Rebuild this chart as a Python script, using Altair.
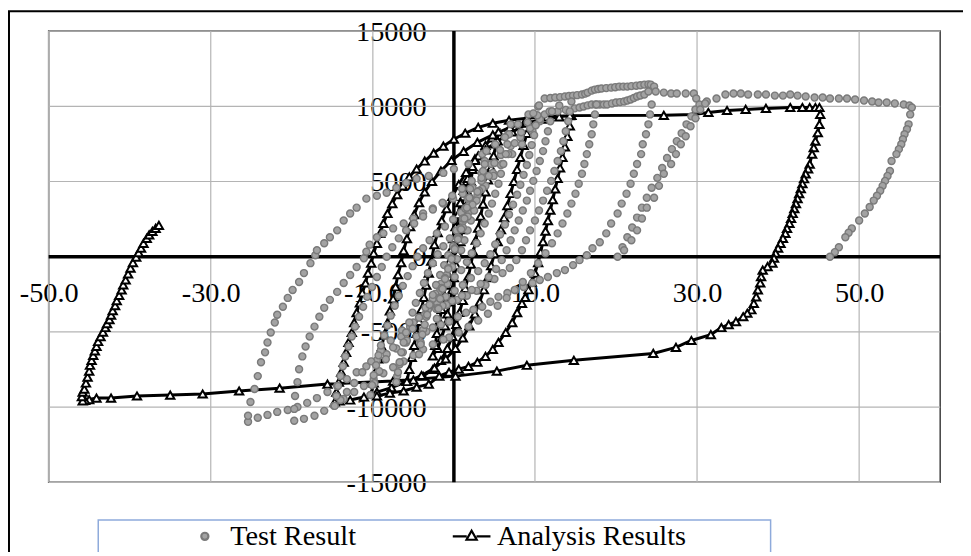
import altair as alt
import pandas as pd

# ---------------- axis values ----------------
X_TICKS = [-50, -30, -10, 10, 30, 50]
Y_TICKS = [-15000, -10000, -5000, 0, 5000, 10000, 15000]
GRID_Y = [-15000, -10000, -5000, 5000, 10000, 15000]

# ---------------- Test Result (grey circles) ----------------
T_TOP24 = [(11.2,10520),(11.9,10550),(12.5,10580),(13.1,10610),(13.7,10650),(14.2,10680),(14.7,10710),(15.2,10740),(15.8,10780),(16.2,10840),(16.5,10910),(17.0,11040),(17.4,11110),(17.8,11150),(18.2,11180),(18.8,11210),(19.4,11240),(19.9,11270),(20.4,11310),(20.9,11310),(21.4,11310),(21.9,11340),(22.5,11370),(23.0,11400),(23.5,11440),(24.0,11460),(24.3,11440),(24.7,11310),(24.9,10980),(25.9,10910),(26.8,10850)]
T_TOP2 = [(14.9,9860),(15.5,9920),(16.0,9990),(16.5,10060),(17.0,10120),(17.5,10120),(18.0,10120),(18.5,10120),(18.9,10120),(19.5,10190),(20.0,10250),(20.5,10280),(21.0,10320),(21.4,10380),(21.8,10450),(22.2,10550),(22.6,10650),(23.0,10720),(23.5,10780),(24.0,10980)]
T_FINAL_TOP = [(27.5,10850),(28.6,10850),(29.6,10850),(29.9,10520),(31.2,10320),(32.4,10520),(33.5,10780),(34.5,10850),(35.4,10850),(36.3,10780),(37.5,10780),(38.5,10780),(39.6,10710),(40.6,10710),(41.5,10780),(42.4,10710),(43.4,10650),(44.5,10580),(45.5,10580),(46.4,10520),(47.5,10520),(48.5,10520),(49.5,10450),(50.6,10380),(51.6,10320),(52.4,10250),(53.4,10250),(54.4,10190),(55.5,10120),(56.2,10050),(56.5,9920)]
T_FINAL_UNLOAD = [(56.3,9460),(56.1,8800),(55.9,8470),(55.6,8140),(55.4,7810),(55.2,7480),(54.9,7150),(54.6,6820),(54.0,6360),(53.8,5700),(53.5,5370),(53.2,5040),(52.9,4710),(52.6,4380),(52.2,4050),(51.8,3730),(51.3,3300),(50.7,2870),(50.0,2410),(49.1,1880),(48.7,1590),(48.3,1290),(47.5,630),(47.0,300),(46.4,0)]
T_RISE1 = [(20.2,0),(20.8,630),(21.4,1290),(22.0,1940),(22.6,2600),(23.2,3260),(23.8,3920),(24.4,4580),(25.1,5240),(25.7,5900),(26.3,6560),(26.9,7150),(27.5,7680),(28.1,8210),(28.7,8800),(29.3,9330),(29.8,9790),(30.3,10120)]
T_RISE2 = [(21.0,430),(21.9,1090),(22.6,1750),(23.2,2540),(23.8,3260),(24.7,3920),(25.3,4710),(25.9,5510),(26.8,6160),(27.4,6820),(28.0,7480),(28.6,8010),(29.2,8670),(29.8,9200),(30.4,9790),(31.0,10190)]
T_UNLOAD24 = [(24.4,10120),(24.2,9460),(24.0,8800),(23.7,8140),(23.3,7480),(23.1,6820),(22.6,6160),(22.2,5510),(21.8,4850),(21.3,4190),(20.7,3530),(20.2,2870),(19.4,2210),(18.8,1550),(18.0,960),(17.1,560),(16.4,100),(15.5,-230),(14.7,-560),(13.7,-890),(12.7,-1090),(11.6,-1350),(10.6,-1550),(9.7,-1750),(8.6,-2010),(7.6,-2210),(6.6,-2410),(5.5,-2670),(4.5,-3000),(3.5,-3330),(2.4,-3530),(1.5,-3720),(0.5,-3990),(-0.6,-4320),(-1.6,-4520),(-2.6,-4710),(-3.4,-4980),(-4.6,-5310),(-5.9,-5700),(-7.1,-6100),(-8.3,-6490),(-9.5,-6890),(-10.8,-7290),(-12.0,-7680),(-13.2,-8140),(-14.4,-8600),(-15.6,-9000),(-16.9,-9400),(-18.1,-9720),(-19.3,-9990),(-20.5,-10190),(-21.8,-10320),(-23.0,-10520),(-24.2,-10710),(-25.4,-10980)]
T_UNLOAD17 = [(17.6,10120),(17.4,9460),(17.2,8800),(17.0,8140),(16.7,7480),(16.4,6820),(16.1,6160),(15.8,5510),(15.4,4850),(15.0,4190),(14.5,3530),(14.0,2870),(13.4,2210),(12.8,1550),(12.1,890),(11.3,230),(10.4,-430),(9.5,-1090),(8.5,-1680),(7.5,-2210),(6.5,-2740),(5.4,-3260),(4.2,-3790),(3.0,-4250),(1.8,-4650),(0.6,-5040),(-0.6,-5370),(-1.3,-5510),(-2.6,-5830),(-3.8,-6160),(-5.0,-6560),(-6.2,-6960),(-7.5,-7350),(-8.7,-7750),(-9.9,-8140),(-11.1,-8600),(-12.3,-9000),(-13.6,-9460),(-14.8,-9920),(-16.0,-10250),(-17.2,-10580),(-18.5,-10780),(-19.7,-10910)]
T_RELOAD25 = [(-25.4,-10580),(-25.1,-9660),(-24.6,-8800),(-24.2,-7940),(-23.8,-7020),(-23.3,-6360),(-23.0,-5700),(-22.6,-5040),(-22.1,-4380),(-21.8,-3860),(-21.1,-3330),(-20.5,-2740),(-19.9,-2210),(-19.1,-1680),(-18.5,-1090),(-17.7,-430),(-17.1,100),(-16.9,430),(-16.0,890),(-15.3,1290),(-14.4,1750),(-13.6,2410),(-12.8,2870),(-12.0,3260),(-10.8,3860),(-9.5,4050),(-8.3,4250),(-7.1,4580),(-5.9,4910),(-4.6,5180),(-3.1,5370),(-1.3,5570),(0.0,5830),(1.8,6160),(3.5,6820),(5.1,7480),(6.7,8140),(7.9,8800),(9.2,9460),(10.4,9990)]
T_RELOAD20 = [(-19.7,-10120),(-19.6,-9260),(-19.3,-8340),(-19.1,-7480),(-18.7,-6630),(-18.3,-5970),(-17.8,-5310),(-17.2,-4650),(-16.6,-3990),(-16.0,-3400),(-15.3,-2870),(-14.4,-2340),(-13.6,-1750),(-12.8,-1220),(-12.0,-690),(-11.1,-100),(-10.8,330),(-10.4,800),(-9.5,1290),(-8.7,1550),(-7.5,1880),(-6.2,2210),(-5.0,2540),(-3.8,2870),(-2.6,3200),(-1.3,3530),(-0.1,3860),(1.1,4190),(2.3,4580),(3.5,5040),(4.8,5570),(6.0,6160),(7.2,6820),(8.4,7480),(9.7,8340),(10.6,9000),(11.2,9460),(12.1,9660),(12.8,9660),(13.8,9760)]
LOOP_A_UNLOAD = [(14.5,10320),(14.3,9660),(14.1,9000),(13.8,8340),(13.5,7680),(13.2,7020),(12.8,6360),(12.4,5700),(12.0,5040),(11.5,4380),(11.0,3730),(10.5,3070),(10.0,2410),(9.4,1750),(8.9,1090),(8.4,430),(7.7,-230),(6.9,-750),(6.0,-1090),(5.0,-1480),(3.9,-1880),(2.8,-2270),(1.6,-2600),(0.4,-2870),(-0.9,-3200),(-2.2,-3460),(-3.6,-3860),(-5.0,-4380),(-6.4,-4910),(-7.8,-5570),(-9.0,-6230),(-10.2,-6960),(-11.3,-7680),(-12.3,-8400),(-13.2,-9000),(-14.0,-9530),(-14.7,-9920)]
LOOP_A_RELOAD = [(-14.5,-9260),(-14.3,-8600),(-14.0,-7940),(-13.7,-7290),(-13.4,-6630),(-13.0,-5970),(-12.6,-5310),(-12.2,-4650),(-11.7,-3990),(-11.2,-3330),(-10.7,-2670),(-10.1,-2010),(-9.5,-1350),(-8.9,-690),(-8.3,0),(-7.6,630),(-6.8,1220),(-5.9,1750),(-4.9,2210),(-3.8,2670),(-2.6,3130),(-1.4,3590),(-0.2,4050),(1.0,4520),(2.2,5040),(3.4,5570),(4.6,6160),(5.8,6760),(7.0,7350),(8.2,7940),(9.4,8540),(10.6,9130),(11.8,9660),(13.0,10050)]
LOOP_A2_UNLOAD = [(12.1,9660),(11.9,9000),(11.6,8340),(11.3,7680),(11.0,7020),(10.6,6360),(10.2,5700),(9.8,5040),(9.4,4380),(9.0,3730),(8.5,3070),(8.0,2410),(7.5,1750),(7.0,1090),(6.5,430),(5.9,-230),(5.2,-820),(4.3,-1350),(3.3,-1810),(2.2,-2210),(1.0,-2600),(-0.2,-2940),(-1.4,-3260)]
LOOP_B_UNLOAD = [(10.5,10050),(10.3,9400),(10.1,8740),(9.9,8080),(9.6,7420),(9.3,6760),(9.0,6100),(8.6,5440),(8.2,4780),(7.8,4120),(7.3,3460),(6.8,2800),(6.3,2140),(5.7,1480),(5.1,820),(4.5,160),(3.8,-430),(3.0,-960),(2.1,-1420),(1.1,-1880),(0.1,-2270),(-1.0,-2670),(-2.1,-3070),(-3.2,-3530),(-4.3,-4050),(-5.4,-4650),(-6.5,-5310),(-7.5,-6030),(-8.4,-6820),(-9.2,-7610),(-9.8,-8410),(-10.3,-9200)]
LOOP_B_RELOAD = [(-10.1,-8540),(-9.9,-7880),(-9.6,-7220),(-9.3,-6560),(-9.0,-5900),(-8.6,-5240),(-8.2,-4580),(-7.8,-3920),(-7.3,-3260),(-6.8,-2600),(-6.3,-1940),(-5.7,-1290),(-5.1,-630),(-4.5,0),(-3.8,560),(-3.0,1090),(-2.1,1550),(-1.1,2010),(-0.1,2470),(0.9,2940),(1.9,3460),(2.9,4050),(3.9,4710),(4.9,5370),(5.8,6100),(6.7,6820),(7.5,7550),(8.3,8270),(9.1,8930),(9.8,9530)]
LOOP_C_UNLOAD = [(7.0,8800),(6.8,8140),(6.6,7480),(6.4,6820),(6.1,6160),(5.8,5510),(5.5,4850),(5.1,4190),(4.7,3530),(4.3,2870),(3.8,2210),(3.3,1550),(2.8,890),(2.2,230),(1.6,-360),(0.9,-890),(0.1,-1350),(-0.8,-1810),(-1.7,-2270),(-2.6,-2800),(-3.5,-3400),(-4.3,-4050),(-5.1,-4780),(-5.8,-5570),(-6.3,-6360),(-6.7,-7150),(-7.0,-7940),(-7.1,-8340)]
LOOP_C_RELOAD = [(-6.9,-7680),(-6.7,-7020),(-6.5,-6360),(-6.2,-5700),(-5.9,-5040),(-5.5,-4380),(-5.1,-3720),(-4.7,-3070),(-4.2,-2410),(-3.7,-1750),(-3.2,-1090),(-2.6,-430),(-2.0,160),(-1.3,690),(-0.5,1220),(0.3,1750),(1.1,2340),(1.9,3000),(2.7,3730),(3.5,4520),(4.3,5370),(5.0,6230),(5.7,7090),(6.3,7940)]
LOOP_D_UNLOAD = [(4.0,7020),(3.8,6360),(3.6,5700),(3.4,5040),(3.1,4380),(2.8,3730),(2.5,3070),(2.1,2410),(1.7,1750),(1.3,1090),(0.9,430),(0.4,-160),(-0.2,-690),(-0.9,-1220),(-1.6,-1810),(-2.3,-2470),(-2.9,-3200),(-3.4,-3990),(-3.8,-4850),(-4.1,-5700),(-4.3,-6490)]
LOOP_D_RELOAD = [(-4.1,-5830),(-3.9,-5170),(-3.6,-4520),(-3.3,-3860),(-3.0,-3200),(-2.6,-2540),(-2.2,-1880),(-1.7,-1220),(-1.2,-560),(-0.7,100),(-0.1,690),(0.5,1290),(1.1,1940),(1.7,2670),(2.3,3460),(2.9,4320),(3.4,5240),(3.8,6160)]
LOOP_E = [(2.0,4520),(1.7,3860),(1.4,3200),(1.1,2540),(0.8,1880),(0.5,1220),(0.1,560),(-0.3,-100),(-0.7,-760),(-1.1,-1420),(-1.5,-2080),(-1.8,-2740),(-2.0,-3400),(-2.1,-4120),(-1.9,-3460),(-1.7,-2800),(-1.4,-2140),(-1.1,-1480),(-0.7,-820),(-0.3,-160),(0.1,500),(0.5,1160),(0.9,1820),(1.3,2540),(1.6,3260),(1.9,3920)]

TEST_SEGMENTS = [T_TOP24, T_TOP2, T_FINAL_TOP, T_FINAL_UNLOAD, T_RISE1, T_RISE2,
                 T_UNLOAD24, T_UNLOAD17, T_RELOAD25, T_RELOAD20,
                 LOOP_A_UNLOAD, LOOP_A_RELOAD, LOOP_A2_UNLOAD, LOOP_B_UNLOAD, LOOP_B_RELOAD,
                 LOOP_C_UNLOAD, LOOP_C_RELOAD, LOOP_D_UNLOAD, LOOP_D_RELOAD, LOOP_E]

# ---------------- Analysis Results (black line + open triangles), in path order ----------------
ANALYSIS = [
    (0.0,0),(0.3,1000),(0.6,2000),(0.9,3000),(1.2,4000),(1.6,5000),(2.0,5800),(2.6,6500),
    (2.3,5800),(2.1,5000),(1.8,4200),(1.5,3400),(1.3,2600),(1.0,1800),(0.8,1000),(0.5,200),(0.3,-600),(0.0,-1400),(-0.2,-2200),(-0.5,-3000),(-0.8,-3800),(-1.1,-4600),(-1.5,-5400),(-2.0,-6100),(-2.6,-6600),
    (-2.3,-5900),(-2.1,-5100),(-1.8,-4300),(-1.5,-3500),(-1.3,-2700),(-1.0,-1900),(-0.8,-1100),(-0.5,-300),(-0.3,500),(-0.1,1200),(0.2,2000),(0.5,2800),(0.8,3600),(1.2,4400),(1.7,5200),(2.3,6000),(3.0,6700),(3.9,7400),(4.7,7900),(5.5,8300),
    (5.2,7500),(4.9,6700),(4.6,5900),(4.2,5100),(3.9,4300),(3.6,3500),(3.3,2700),(3.0,1900),(2.7,1100),(2.4,300),(2.1,-500),(1.8,-1300),(1.4,-2100),(1.1,-2900),(0.7,-3700),(0.3,-4500),(-0.2,-5300),(-0.8,-6100),(-1.6,-6900),(-2.6,-7500),(-3.8,-7950),(-5.0,-8200),(-5.8,-8300),
    (-5.5,-7500),(-5.2,-6700),(-4.9,-5900),(-4.6,-5100),(-4.3,-4300),(-4.0,-3500),(-3.7,-2700),(-3.4,-1900),(-3.1,-1100),(-2.8,-300),(-2.4,800),(-2.0,1600),(-1.5,2400),(-0.9,3200),(-0.2,4000),(0.6,4800),(1.5,5600),(2.6,6400),(3.9,7100),(5.4,7700),(7.2,8300),(9.3,8900),
    (9.0,8200),(8.6,7400),(8.2,6600),(7.8,5800),(7.4,5000),(7.0,4200),(6.6,3400),(6.2,2600),(5.8,1800),(5.4,1000),(5.0,200),(4.6,-600),(4.2,-1400),(3.7,-2200),(3.2,-3000),(2.6,-3800),(1.9,-4600),(1.1,-5400),(0.2,-6100),(-1.0,-6800),(-2.4,-7400),(-4.0,-7900),(-5.8,-8300),(-7.7,-8700),(-9.5,-9000),(-10.2,-9150),
    (-9.9,-8400),(-9.6,-7600),(-9.3,-6800),(-8.9,-6000),(-8.6,-5200),(-8.2,-4400),(-7.9,-3600),(-7.5,-2800),(-7.2,-2000),(-6.9,-1200),(-6.5,-400),(-6.2,400),(-5.8,1200),(-5.4,2000),(-4.9,2800),(-4.3,3600),(-3.6,4300),(-2.7,5000),(-1.6,5700),(-0.3,6400),(1.2,7000),(2.9,7600),(4.8,8100),(6.9,8600),(9.0,8900),(11.2,9150),(13.0,9300),(14.5,9400),
    (14.3,8700),(14.0,8000),(13.7,7300),(13.4,6600),(13.1,5900),(12.8,5200),(12.5,4500),(12.2,3800),(11.9,3100),(11.6,2400),(11.3,1700),(11.0,1000),(10.7,300),(10.4,-400),(10.0,-1100),(9.6,-1700),(9.2,-2200),(8.8,-2700),(8.4,-3100),(7.8,-3720),(7.2,-4380),(6.4,-5040),(5.5,-5700),(4.8,-6160),(3.9,-6630),(2.9,-7020),(1.8,-7290),(0.6,-7480),(-0.6,-7680),(-1.8,-7940),(-3.1,-8470),(-4.6,-8670),(-6.2,-8930),(-7.9,-9070),(-9.5,-9260),(-11.1,-9330),(-12.8,-9530),(-14.1,-9590),(-14.7,-9660),
    (-14.5,-9000),(-14.2,-8340),(-13.9,-7680),(-13.6,-7020),(-13.3,-6360),(-13.0,-5700),(-12.6,-5040),(-12.3,-4380),(-12.0,-3720),(-11.6,-3070),(-11.3,-2410),(-10.9,-1750),(-10.6,-1090),(-10.2,-430),(-9.9,230),(-9.5,890),(-9.1,1550),(-8.7,2210),(-8.2,2870),(-7.6,3530),(-7.0,4120),(-6.3,4710),(-5.5,5310),(-4.6,5830),(-3.6,6360),(-2.5,6890),(-1.3,7350),(0.0,7810),(1.4,8210),(3.0,8600),(4.8,8870),(6.8,9070),(9.0,9200),(11.5,9300),(14.3,9380),(25.9,9400),(29.6,9460),(31.4,9590),(33.7,9720),(36.0,9790),(38.5,9860),(41.5,9920),(43.0,9920),(43.9,9920),(44.6,9920),(45.1,9920),
    (45.2,9460),(45.1,8800),(44.9,8240),(44.6,7680),(44.4,7250),(44.2,6820),(43.9,6160),(43.7,5840),(43.4,5510),(43.2,5180),(43.0,4850),(42.8,4520),(42.6,4190),(42.4,3860),(42.2,3530),(42.0,3200),(41.8,2870),(41.6,2540),(41.4,2210),(41.1,1880),(40.9,1550),(40.6,1220),(40.3,890),(40.0,560),(39.7,230),(39.5,-100),(39.3,-430),(38.7,-660),(38.1,-890),(37.9,-1320),(37.8,-1750),(37.5,-2210),(37.3,-2670),(37.0,-3100),(36.7,-3530),(36.2,-3760),(35.7,-3990),(34.8,-4320),(33.9,-4520),(33.0,-4710),(31.7,-5180),(29.3,-5570),(27.4,-6030),(24.6,-6430),(14.8,-6890),(9.0,-7220),(5.3,-7610),(0.2,-7940),(-7.5,-8270),(-15.6,-8470),(-21.5,-8740),(-26.5,-8930),(-31.0,-9130),(-35.0,-9200),(-39.1,-9260),(-42.3,-9400),(-44.1,-9400),(-45.0,-9500),(-45.5,-9560),(-45.8,-9590),
    (-45.9,-9300),(-45.8,-9000),(-45.6,-8800),(-45.4,-8400),(-45.2,-8010),(-45.0,-7610),(-44.9,-7220),(-44.7,-6890),(-44.5,-6560),(-44.3,-6260),(-44.1,-5970),(-43.9,-5640),(-43.6,-5310),(-43.3,-5010),(-43.0,-4710),(-42.8,-4450),(-42.5,-4190),(-42.3,-3890),(-42.1,-3590),(-41.8,-3260),(-41.6,-2930),(-41.3,-2570),(-41.0,-2210),(-40.8,-1880),(-40.5,-1550),(-40.2,-1150),(-39.9,-760),(-39.6,-400),(-39.2,-30),(-38.9,270),(-38.6,560),(-38.3,890),(-37.9,1220),(-37.6,1450),(-37.2,1680),(-36.8,1880),(-36.4,2080),
]

SERIES = ["Test Result", "Analysis Results"]

# ---------------- frames ----------------
test_df = pd.DataFrame([p for seg in TEST_SEGMENTS for p in seg], columns=["x", "y"])
ana_df = pd.DataFrame(ANALYSIS, columns=["x", "y"])
ana_df["i"] = range(len(ana_df))
gx_df = pd.DataFrame({"x": X_TICKS})
gy_df = pd.DataFrame({"y": GRID_Y})
zx_df = pd.DataFrame({"x": [0]})
zy_df = pd.DataFrame({"y": [0]})
leg_df = pd.DataFrame({"series": SERIES, "x": [0, 0], "y": [0, 0]})

W, H = 899, 455
FONT = "Liberation Serif"
XS = alt.Scale(domain=[-50, 60], nice=False, zero=False)
YS = alt.Scale(domain=[-15000, 15000], nice=False, zero=False)
x_zero_px = (0 - (-50)) / 110 * W
y_zero_px = H / 2

XAXIS = alt.Axis(values=X_TICKS, format=".1f", labelExpr="replace(datum.label, '\u2212', '-')",
                 title=None, grid=False, domain=False, ticks=False, orient="bottom",
                 offset=-y_zero_px, labelPadding=22, labelFont=FONT, labelFontSize=28.5,
                 labelColor="black", labelFlush=False, labelOverlap=False, labelBaseline="top")
YAXIS = alt.Axis(values=Y_TICKS, format="d", labelExpr="replace(datum.label, '\u2212', '-')",
                 title=None, grid=False, domain=False, ticks=False, orient="left",
                 offset=-x_zero_px, labelPadding=28, labelFont=FONT, labelFontSize=28.5,
                 labelColor="black", labelFlush=False, labelOverlap=False, labelBaseline="middle")

grid_v = alt.Chart(gx_df).mark_rule(color="#b4b4b4", strokeWidth=1.2).encode(
    x=alt.X("x:Q", scale=XS, axis=XAXIS))
grid_h = alt.Chart(gy_df).mark_rule(color="#b4b4b4", strokeWidth=1.2).encode(
    y=alt.Y("y:Q", scale=YS, axis=YAXIS))
zero_v = alt.Chart(zx_df).mark_rule(color="black", strokeWidth=3.5).encode(
    x=alt.X("x:Q", scale=XS, axis=XAXIS))
zero_h = alt.Chart(zy_df).mark_rule(color="black", strokeWidth=3.5).encode(
    y=alt.Y("y:Q", scale=YS, axis=YAXIS))

ana_line = alt.Chart(ana_df).mark_line(color="black", strokeWidth=3).encode(
    x=alt.X("x:Q", scale=XS, axis=XAXIS), y=alt.Y("y:Q", scale=YS, axis=YAXIS), order="i:Q")
ana_pts = alt.Chart(ana_df).mark_point(shape="triangle-up", size=70, filled=True, fill="white",
                                       stroke="black", strokeWidth=2, opacity=1).encode(
    x=alt.X("x:Q", scale=XS, axis=XAXIS), y=alt.Y("y:Q", scale=YS, axis=YAXIS))
test_pts = alt.Chart(test_df).mark_point(shape="circle", size=50, filled=True, fill="#a3a3a3",
                                         stroke="#7a7a7a", strokeWidth=1.4, opacity=1).encode(
    x=alt.X("x:Q", scale=XS, axis=XAXIS), y=alt.Y("y:Q", scale=YS, axis=YAXIS))

CIRCLE_PATH = "M-0.19,0A0.19,0.19,0,1,0,0.19,0A0.19,0.19,0,1,0,-0.19,0Z"
LINE_TRI_PATH = "M-1,0L-0.26,0M0.26,0L1,0M0,-0.3L0.27,0.18L-0.27,0.18Z"

legend_layer = alt.Chart(leg_df).transform_filter("false").mark_point(filled=True, size=1444, opacity=1).encode(
    x=alt.X("x:Q", scale=XS, axis=XAXIS), y=alt.Y("y:Q", scale=YS, axis=YAXIS),
    fill=alt.Fill("series:N", scale=alt.Scale(domain=SERIES, range=["#a3a3a3", "white"]),
                  legend=alt.Legend(title=None, orient="none", legendX=137, legendY=489,
                                    direction="horizontal", symbolSize=1444, symbolStrokeWidth=2.2,
                                    labelFont=FONT, labelFontSize=28.5, labelColor="black",
                                    labelOffset=5, columnPadding=92, padding=0, labelLimit=0)),
    stroke=alt.Stroke("series:N", scale=alt.Scale(domain=SERIES, range=["#7a7a7a", "black"])),
    shape=alt.Shape("series:N", scale=alt.Scale(domain=SERIES, range=[CIRCLE_PATH, LINE_TRI_PATH])),
)

frame = alt.Chart(zx_df).mark_rect(fillOpacity=0, stroke="black", strokeWidth=2).encode(
    x=alt.value(-40), x2=alt.value(960), y=alt.value(-20), y2=alt.value(600))
legend_box = alt.Chart(zx_df).mark_rect(fillOpacity=0, stroke="#8eaadb", strokeWidth=1.5).encode(
    x=alt.value(50), x2=alt.value(728), y=alt.value(493), y2=alt.value(600))

chart = alt.layer(frame, legend_box, grid_v, grid_h, zero_v, zero_h, ana_line, ana_pts, test_pts,
                  legend_layer).properties(
    width=W, height=H,
    autosize=alt.AutoSizeParams(type="none"),
    padding={"left": 41, "top": 21, "right": 23, "bottom": 68},
    background="white",
).configure_view(stroke="#404040", strokeWidth=1.5)

chart.save("out.html", embed_options={"renderer": "svg", "actions": False})
